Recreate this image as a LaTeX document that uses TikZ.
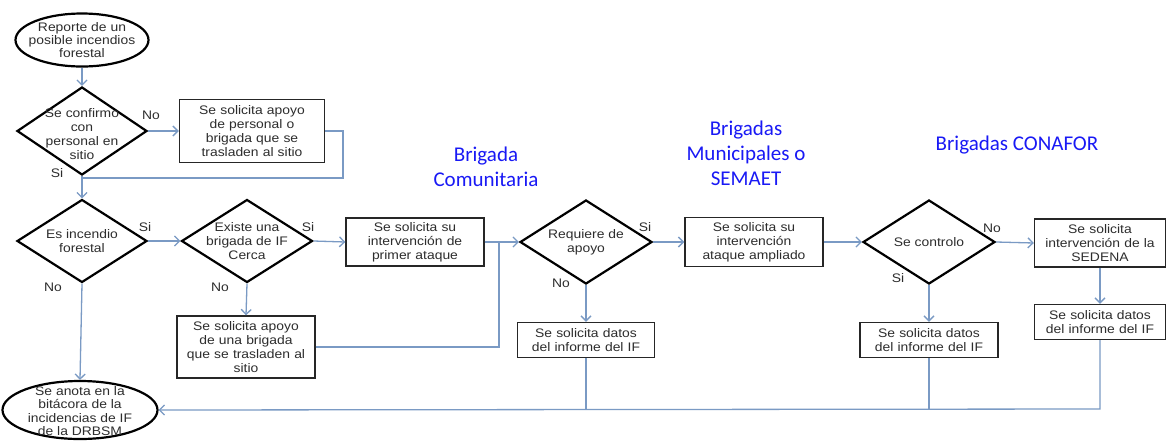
\documentclass[tikz,border=0pt]{standalone}
\usepackage{fontspec}
\setmainfont{Liberation Sans}[FakeStretch=1.12]
\newfontfamily\brigfont{Carlito}
\usetikzlibrary{shapes.geometric,arrows.meta}
\definecolor{connc}{RGB}{122,154,196}
\definecolor{txtc}{RGB}{45,45,45}
\definecolor{lbluec}{RGB}{25,25,245}
\begin{document}
\begin{tikzpicture}[x=1pt,y=-1pt,
  every node/.style={font=\fontsize{12.4}{13.8}\selectfont, text=txtc},
  box/.style={draw=black!85, line width=1.4pt, rectangle, inner sep=0pt, align=center},
  dia/.style={draw=black, line width=2.2pt, diamond, inner sep=0pt},
  oval/.style={draw=black, line width=2.2pt, ellipse, inner sep=0pt},
  conn/.style={draw=connc, line width=1.3pt},
  arr/.style={conn, -{Straight Barb[length=5pt,width=10pt]}},
  brig/.style={font=\brigfont\fontsize{21}{25}\selectfont, text=lbluec, align=center}
]
\useasboundingbox (0,0) rectangle (1167,440);
\fill[white] (0,0) rectangle (1167,440);

% ovals
\node[oval, minimum width=133pt, minimum height=53pt,
  label={[name=e1t, align=center, font=\fontsize{12.4}{13.2}\selectfont]center:Reporte de un\\posible incendios\\forestal}] (e1) at (82,40) {};
\node[oval, minimum width=155pt, minimum height=58pt,
  label={[name=e2t, align=center, yshift=-1pt, font=\fontsize{12.4}{13.4}\selectfont]center:Se anota en la\\bitácora de la\\incidencias de IF\\de la DRBSM}] (e2) at (80,410) {};

% diamonds
\node[dia, minimum width=130pt, minimum height=88pt,
  label={[name=d1t, align=center, yshift=-3pt]center:Se confirmo\\con\\personal en\\sitio}] (d1) at (82,131) {};
\node[dia, minimum width=130pt, minimum height=83pt,
  label={[name=d2t, align=center]center:Es incendio\\forestal}] (d2) at (82,241) {};
\node[dia, minimum width=131pt, minimum height=83pt,
  label={[name=d3t, align=center]center:Existe una\\brigada de IF\\Cerca}] (d3) at (247,241) {};
\node[dia, minimum width=132pt, minimum height=84pt,
  label={[name=d4t, align=center]center:Requiere de\\apoyo}] (d4) at (586,242) {};
\node[dia, minimum width=132pt, minimum height=84pt,
  label={[name=d5t, align=center]center:Se controlo}] (d5) at (929,242) {};

% boxes
\node[box, text width=145pt, minimum height=63pt] (b1) at (252,131) {Se solicita apoyo\\de personal o\\brigada que se\\trasladen al sitio};
\node[box, text width=138pt, minimum height=48pt] (b2) at (415,242) {Se solicita su\\intervención de\\primer ataque};
\node[box, text width=138pt, minimum height=62pt] (b3) at (246,347) {Se solicita apoyo\\de una brigada\\que se trasladen al\\sitio};
\node[box, text width=137pt, minimum height=35pt] (b4) at (586,340) {Se solicita datos\\del informe del IF};
\node[box, text width=138pt, minimum height=49pt] (b5) at (754,242) {Se solicita su\\intervención\\ataque ampliado};
\node[box, text width=138pt, minimum height=35pt] (b6) at (929,340) {Se solicita datos\\del informe del IF};
\node[box, text width=131pt, minimum height=48pt] (b7) at (1100,243) {Se solicita\\intervención de la\\SEDENA};
\node[box, text width=131pt, minimum height=35pt] (b8) at (1100,322) {Se solicita datos\\del informe del IF};

% blue labels
\node[brig] (l1) at (486,167) {Brigada\\Comunitaria};
\node[brig] (l2) at (746,153) {Brigadas\\Municipales o\\SEMAET};
\node[brig] (l3) at (1017,145) {Brigadas CONAFOR};

% yes/no labels
\node (n1) at (151,115) {No};
\node (s1) at (57,173) {Si};
\node (s2) at (145,227) {Si};
\node (n2) at (53,287) {No};
\node (s3) at (308,227) {Si};
\node (n3) at (220,287) {No};
\node (s4) at (645,227) {Si};
\node (n4) at (561,283) {No};
\node (n5) at (992,228) {No};
\node (s5) at (898,278) {Si};

% junction coordinates
\coordinate (j1) at (343,178);
\coordinate (j1b) at (82,178);
\coordinate (j2) at (499,347);
\coordinate (j2b) at (499,242);
\coordinate (k1) at (586,409);
\coordinate (k2) at (929,409);
\coordinate (k3) at (1100,409);

% connectors
\draw[arr] (e1.south) -- (d1.north);
\draw[arr] (d1.east) -- (b1.west);
\draw[conn] (b1.east) -| (j1) -- (j1b);
\draw[arr] (d1.south) -- (d2.north);
\draw[arr] (d2.east) -- (d3.west);
\draw[arr] (d2.south) -- (e2.north);
\draw[arr] (d3.east) -- (b2.west);
\draw[arr] (d3.south) -- (b3.north);
\draw[arr] (b2.east) -- (d4.west);
\draw[conn] (b3.east) -- (j2) -- (j2b);
\draw[arr] (d4.east) -- (b5.west);
\draw[arr] (d4.south) -- (b4.north);
\draw[arr] (b5.east) -- (d5.west);
\draw[arr] (d5.east) -- (b7.west);
\draw[arr] (d5.south) -- (b6.north);
\draw[arr] (b7.south) -- (b8.north);
\draw[conn] (b4.south) -- (k1);
\draw[conn] (b6.south) -- (k2);
\draw[arr] (b8.south) -- (k3) -- (e2.east);
\end{tikzpicture}
\end{document}
